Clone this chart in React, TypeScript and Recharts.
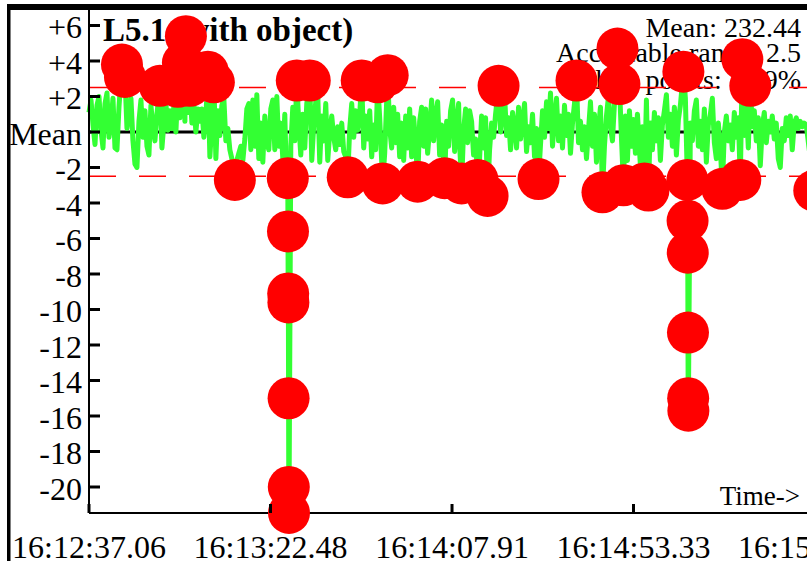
import React from "react";
import { ComposedChart, Line, XAxis, YAxis, ReferenceLine } from "recharts";

// time offsets (seconds after 16:12:37.06)
const times = [
  0.0, 0.5, 1.0, 1.5, 2.0, 2.5, 3.0, 3.5, 4.0, 4.5, 5.0, 5.5, 6.0, 6.5, 7.0, 7.5, 8.25, 9.0, 9.5, 10.0,
  10.5, 11.0, 11.5, 12.0, 12.5, 13.0, 13.5, 14.0, 14.5, 15.0, 15.5, 16.0, 16.5, 17.0, 17.75, 18.25, 18.75, 19.25, 19.75, 20.25,
  20.75, 21.25, 21.75, 22.25, 22.75, 23.5, 24.0, 24.25, 24.75, 25.25, 25.75, 26.25, 26.75, 27.25, 27.75, 28.25, 28.75, 29.25, 29.75, 30.25,
  30.75, 31.25, 31.75, 32.25, 32.75, 33.25, 33.75, 34.25, 34.75, 35.25, 35.75, 36.5, 37.0, 37.5, 38.0, 38.5, 39.0, 39.5, 40.0, 40.5,
  41.0, 41.5, 42.0, 42.5, 43.0, 43.5, 44.0, 44.5, 45.0, 45.5, 46.0, 46.5, 47.0, 47.5, 48.0, 48.5, 49.0, 49.25, 49.75, 49.8,
  49.85, 49.9, 49.95, 50.0, 50.05, 50.5, 51.0, 51.5, 52.0, 52.5, 53.0, 53.5, 54.0, 54.5, 55.25, 55.75, 56.25, 56.75, 57.25, 57.75,
  58.25, 58.75, 59.25, 59.75, 60.25, 60.75, 61.25, 61.75, 62.25, 62.75, 63.25, 63.75, 64.25, 64.75, 65.25, 65.75, 66.25, 66.75, 67.25, 67.75,
  68.25, 68.75, 69.25, 69.75, 70.25, 70.75, 71.25, 71.75, 72.25, 72.75, 73.5, 74.0, 74.75, 75.25, 75.75, 76.25, 76.75, 77.25, 77.75, 78.25,
  78.75, 79.25, 79.75, 80.25, 80.75, 81.25, 81.75, 82.25, 82.75, 83.25, 83.75, 84.25, 84.75, 85.25, 85.75, 86.25, 86.75, 87.25, 87.75, 88.25,
  89.0, 89.5, 90.0, 90.5, 91.0, 91.5, 92.0, 92.5, 92.75, 93.25, 93.75, 94.25, 94.75, 95.25, 95.75, 96.25, 96.75, 97.25, 97.75, 98.25,
  98.75, 99.25, 99.75, 100.25, 100.75, 101.25, 101.75, 102.5, 103.0, 103.5, 104.0, 104.5, 105.0, 105.5, 106.0, 106.5, 107.0, 107.5, 108.0, 108.5,
  109.0, 109.5, 110.0, 110.5, 111.0, 111.5, 112.0, 112.5, 113.0, 113.5, 114.0, 114.5, 115.0, 115.5, 116.0, 116.5, 117.0, 117.5, 118.0, 118.5,
  119.0, 119.5, 120.0, 120.5, 121.0, 121.5, 122.0, 122.5, 123.0, 123.5, 124.0, 124.5, 125.0, 125.5, 126.0, 126.5, 127.0, 127.5, 128.0, 128.5,
  129.0, 129.5, 130.0, 130.5, 131.0, 131.5, 132.25, 132.75, 133.25, 133.75, 134.25, 134.75, 135.25, 135.75, 136.25, 136.75, 137.25, 138.0, 138.5, 139.0,
  139.5, 140.0, 140.5, 141.0, 141.5, 142.0, 142.5, 143.0, 143.5, 144.0, 144.5, 145.0, 145.5, 146.0, 146.5, 147.0, 147.5, 148.0, 148.75, 149.25,
  149.75, 149.8, 149.85, 149.9, 149.95, 150.0, 150.5, 151.0, 151.5, 152.0, 152.5, 153.0, 153.5, 154.0, 154.5, 155.0, 155.5, 156.0, 156.5, 157.0,
  157.5, 158.0, 158.5, 159.0, 159.5, 160.0, 160.5, 161.0, 161.5, 162.0, 162.5, 163.0, 163.5, 164.0, 164.5, 165.0, 165.5, 166.0, 166.5, 167.0,
  167.5, 168.0, 168.5, 169.0, 169.5, 170.0, 170.5, 171.0, 171.5, 172.0, 172.5, 173.0, 173.5, 174.0, 174.5, 175.0, 175.5, 176.0, 176.5, 177.0,
  177.5, 178.0, 178.5, 179.0, 179.5, 181.5,
];

// deviation from mean
const deviations = [
  1.1, 1.8, 0.4, -0.7, 1.5, 2.0, 0.1, -0.9, 1.6, 2.2, -0.3, 0.5, 1.9, -0.9, -1.0, 1.4, 3.8, 3.1, 0.2, 1.2,
  1.9, -0.5, -1.8, -2.0, 0.6, 1.8, -0.3, 1.2, -0.8, -1.3, 1.5, 0.3, -0.5, 1.0, 2.6, -0.9, 0.5, 1.6, 0.1, 1.2,
  0.2, 1.5, 0.0, 2.55, 0.8, 3.9, 0.6, 5.4, 1.1, 2.6, 0.5, 1.6, 0.0, 1.3, 0.6, 1.3, -0.3, 0.8, 3.4, -1.4,
  0.5, 2.8, -1.5, 1.2, -0.2, 1.5, 1.9, -0.5, 0.2, -1.0, -1.5, -2.7, -1.6, -1.2, -0.8, -1.6, -0.4, 1.3, 1.6, -1.0,
  1.8, -0.8, 2.1, -1.5, 0.5, -1.7, 0.9, -0.6, -1.0, 1.3, 1.8, -1.0, 2.0, -0.8, 0.5, -1.5, 1.0, -1.2, -2.6, -5.6,
  -9.1, -9.6, -15.0, -20.0, -21.46, -0.8, 1.4, -0.5, 2.9, 0.5, -1.3, 1.0, -0.9, 1.6, 2.9, -1.6, 0.4, 1.7, 2.1, -1.7,
  0.9, -0.5, 1.6, -1.6, 0.0, 0.9, -0.3, -1.0, 0.3, -0.7, 0.5, -1.1, -1.4, -2.55, 0.2, 1.6, -0.3, 1.2, 0.1, 1.0,
  2.9, -0.9, 0.9, -0.4, 1.2, -1.4, 0.4, -1.0, 2.8, 0.8, -2.9, -1.2, 3.2, 0.2, -0.9, 1.4, -0.6, 1.0, -1.4, 0.5,
  -1.6, 0.9, -0.9, 1.3, -1.4, 0.8, -0.6, -2.8, 0.6, 1.4, -0.8, 1.3, -1.2, 0.2, 1.8, -0.5, 0.9, 1.7, -1.3, 0.4,
  -2.6, 0.6, -0.8, 1.2, 1.8, -1.1, 0.5, 1.6, -0.7, -2.9, 0.1, 1.3, -0.6, 1.2, 0.6, -1.3, -0.4, -2.7, -1.5, 0.9,
  -0.9, 0.8, -3.6, -1.0, 0.5, -0.3, 1.0, 2.6, 0.0, 1.3, 2.1, -0.2, 0.8, -1.0, 1.1, 0.3, -0.9, 1.4, -0.4, 0.6,
  1.6, -1.1, 0.3, -0.6, 1.0, -1.4, 0.2, -2.65, -0.7, 1.2, -0.3, 1.7, 0.2, 2.2, -0.8, 0.8, 1.9, -0.5, 0.9, -0.9,
  1.5, -0.2, 1.0, -1.2, 0.5, 1.6, 2.9, -0.6, 0.6, -1.0, 0.3, -1.5, 0.1, 1.7, -0.8, 1.0, -1.7, 0.2, 1.4, -3.4,
  -0.8, 0.9, 2.0, 0.3, -0.5, 1.6, 4.7, 2.7, -0.3, -3.0, 0.9, -1.6, 1.2, -0.8, 0.7, -1.2, 1.0, -1.9, 0.3, -2.9,
  1.8, -3.3, 0.5, -1.0, 1.1, -0.5, 0.8, -1.6, 0.4, 1.2, 2.1, -0.3, 1.0, -0.8, 1.4, -1.3, 0.7, 1.5, 3.4, 1.9,
  -2.7, -5.0, -6.8, -11.3, -15.0, -15.7, 0.5, -0.5, 1.2, 1.8, -0.8, 0.6, -1.0, 1.3, -1.7, 0.4, 1.0, 1.9, -0.6, -1.5,
  0.5, -0.9, -3.2, 0.0, 0.9, -0.5, 0.4, -1.0, 1.1, -0.3, 0.8, -2.7, 4.1, -0.2, 1.5, -0.9, 2.6, 0.3, 1.2, -0.5,
  0.8, -1.9, 0.3, 1.1, -0.6, 0.6, 0.0, 0.9, -0.4, 0.5, -1.5, -2.0, 0.2, -0.5, 0.8, -0.2, 0.9, -1.0, 0.5, 0.8,
  0.2, 0.6, 0.3, 0.5, 0.4, -3.3,
];

const xTickValues = [0, 45.42, 90.85, 136.27, 181.69];
const xTickLabels = ["16:12:37.06", "16:13:22.48", "16:14:07.91", "16:14:53.33", "16:15:38.75"];
const yTickValues = [6, 4, 2, 0, -2, -4, -6, -8, -10, -12, -14, -16, -18, -20];
const yTickLabels = ["+6", "+4", "+2", "Mean", "-2", "-4", "-6", "-8", "-10", "-12", "-14", "-16", "-18", "-20"];
const acceptableRange = 2.5;
const titleText = "L5.1 (with object)";
const statLines = ["Mean: 232.44", "Acceptable range: 2.5", "Failure points: 7.59%"];
const axisName = "Time->";

const data = times.map((t, i) => ({ t, v: deviations[i] }));

const FONT = "'Liberation Serif', 'Times New Roman', serif";
const AXIS_X = 89;
const AXIS_Y = 513;

const YTick = (props: any) => {
  const { y, payload } = props;
  const idx = yTickValues.indexOf(payload.value);
  return (
    <g>
      <line x1={AXIS_X} x2={AXIS_X + 11} y1={y} y2={y} stroke="#000" strokeWidth={3} />
      <text x={82} y={y + 13} textAnchor="end" fontFamily={FONT} fontSize={32} fill="#000">
        {yTickLabels[idx]}
      </text>
    </g>
  );
};

const XTick = (props: any) => {
  const { x, payload } = props;
  const idx = xTickValues.indexOf(payload.value);
  return (
    <g>
      <line x1={x} x2={x} y1={AXIS_Y} y2={AXIS_Y - 9} stroke="#000" strokeWidth={3} />
      <text x={x} y={558} textAnchor="middle" fontFamily={FONT} fontSize={32} fill="#000">
        {xTickLabels[idx]}
      </text>
    </g>
  );
};

const renderDot = (p: any) => {
  const v = p.payload?.v;
  if (v === undefined || Math.abs(v) <= acceptableRange) return <g key={`d-${p.index}`} />;
  return <circle key={`d-${p.index}`} cx={p.cx} cy={p.cy} r={21} fill="#ff0000" stroke="none" />;
};

export default function App() {
  return (
    <div
      style={{
        position: "fixed",
        left: 0,
        top: 0,
        width: 807,
        height: 561,
        overflow: "hidden",
        background: "#fff",
      }}
    >
      <svg width={807} height={561} style={{ position: "absolute", left: 0, top: 0 }}>
        <rect x={7} y={4} width={800} height={6} fill="#000" />
        <rect x={7} y={4} width={3.5} height={557} fill="#000" />
        <text x={103} y={41} fontFamily={FONT} fontWeight="bold" fontSize={33} fill="#000">
          {titleText}
        </text>
        {statLines.map((s, i) => (
          <text key={s} x={801} y={[37, 62, 89][i]} textAnchor="end" fontFamily={FONT} fontSize={28} fill="#000">
            {s}
          </text>
        ))}
        <text x={800} y={505} textAnchor="end" fontFamily={FONT} fontSize={27} fill="#000">
          {axisName}
        </text>
      </svg>
      <div style={{ position: "absolute", left: 0, top: 0 }}>
        <ComposedChart width={900} height={561} data={data} margin={{ top: 10, right: 85, bottom: 0, left: 0 }}>
          <XAxis
            dataKey="t"
            type="number"
            domain={[0, 181.69]}
            ticks={xTickValues}
            interval={0}
            tick={XTick}
            tickLine={false}
            axisLine={{ stroke: "#000", strokeWidth: 2 }}
            height={48}
          />
          <YAxis
            type="number"
            domain={[-21.465, 6.873]}
            ticks={yTickValues}
            interval={0}
            tick={YTick}
            tickLine={false}
            axisLine={{ stroke: "#000", strokeWidth: 2 }}
            width={89}
          />
          <ReferenceLine y={0} stroke="#000" strokeWidth={3} />
          <ReferenceLine y={acceptableRange} stroke="#ff0000" strokeWidth={1.5} strokeDasharray="27 23" />
          <ReferenceLine y={-acceptableRange} stroke="#ff0000" strokeWidth={1.5} strokeDasharray="27 23" />
          <Line
            dataKey="v"
            type="linear"
            stroke="#33ff33"
            strokeWidth={5}
            strokeLinejoin="round"
            dot={renderDot}
            activeDot={false}
            isAnimationActive={false}
          />
        </ComposedChart>
      </div>
    </div>
  );
}
